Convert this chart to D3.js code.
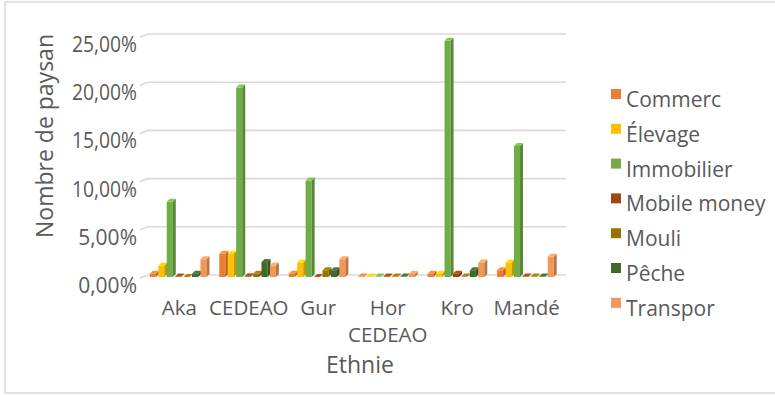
<!DOCTYPE html>
<html>
<head>
<meta charset="utf-8">
<script src="https://cdn.jsdelivr.net/npm/d3@7"></script>
<style>
  body { margin: 0; background: #fff; }
  text { font-family: "Open Sans", sans-serif; fill: #595959; }
</style>
</head>
<body>
<div id="chart"></div>
<script>
// categories (ethnies) and series
var ethnies = ["Aka", "CEDEAO", "Gur", "Hor CEDEAO", "Kro", "Mandé"];
var activites = ["Commerc", "Élevage", "Immobilier", "Mobile money", "Mouli", "Pêche", "Transpor"];
var couleurs = ["#ED7D31", "#FFC000", "#70AD47", "#9E480E", "#997300", "#43682B", "#F1975A"];

// values in % per activity, in the order of ethnies
var commerc     = [0.35, 2.4, 0.35, 0.05, 0.35, 0.7];
var elevage     = [1.2, 2.4, 1.5, 0.05, 0.35, 1.5];
var immobilier  = [7.8, 19.65, 10.0, 0.05, 24.5, 13.6];
var mobileMoney = [0.05, 0.07, 0.0, 0.05, 0.35, 0.05];
var mouli       = [0.0, 0.35, 0.7, 0.05, 0.05, 0.05];
var peche       = [0.35, 1.55, 0.7, 0.05, 0.7, 0.05];
var transpor    = [1.85, 1.2, 1.85, 0.3, 1.5, 2.1];

var yTicks = [0, 5, 10, 15, 20, 25];

var series = [commerc, elevage, immobilier, mobileMoney, mouli, peche, transpor];

var W = 775, H = 395;
var svg = d3.select("#chart").append("svg")
  .attr("width", W).attr("height", H);

// chart frame
svg.append("rect")
  .attr("x", 5).attr("y", 2)
  .attr("width", 790).attr("height", 391)
  .style("fill", "none").style("stroke", "#d9d9d9").style("stroke-width", 1.5);

// scales
var x0 = d3.scaleBand().domain(ethnies).range([145, 561])
  .paddingInner(0.15).paddingOuter(0.07);
var x1 = d3.scaleBand().domain(activites).range([0, x0.bandwidth()]);
var yGrid = d3.scaleLinear().domain([0, 25]).range([275, 34]);
var y = d3.scaleLinear().domain([0, 25]).range([277, 36]);

var depth = 3;

// gridlines with small 3D wall stub on the left
svg.append("g").selectAll("path")
  .data(yTicks).enter().append("path")
  .attr("d", function (d) {
    var gy = yGrid(d);
    return "M140," + (gy + 3) + " L148," + gy + " L566," + gy;
  })
  .style("fill", "none").style("stroke", "#d9d9d9").style("stroke-width", 1.6);

// y tick labels (the wide ones are squeezed like in the original)
svg.append("g").selectAll("text")
  .data(yTicks).enter().append("text")
  .attr("x", 137)
  .attr("y", function (d) { return yGrid(d) + 18; })
  .style("text-anchor", "end")
  .style("font-size", "21px")
  .each(function (d) {
    if (d >= 10) d3.select(this).attr("textLength", 65).attr("lengthAdjust", "spacingAndGlyphs");
  })
  .text(function (d) { return d3.format(".2f")(d).replace(".", ",") + "%"; });

// bars (front, right side, top)
var groups = svg.append("g").selectAll("g")
  .data(ethnies).enter().append("g")
  .attr("transform", function (d) { return "translate(" + x0(d) + ",0)"; });

var bw = x1.bandwidth();
var fw = bw - depth * 0.8;

groups.each(function (eth, ei) {
  var g = d3.select(this);
  activites.forEach(function (act, si) {
    var v = series[si][ei];
    var c = d3.color(couleurs[si]);
    var bx = x1(act), top = y(v), base = y(0);
    g.append("rect")
      .attr("x", bx).attr("y", top)
      .attr("width", fw).attr("height", base - top)
      .style("fill", c);
    g.append("path")
      .attr("d", "M" + (bx + fw) + "," + top + " L" + (bx + fw + depth) + "," + (top - depth) +
        " L" + (bx + fw + depth) + "," + (base - depth) + " L" + (bx + fw) + "," + base + "Z")
      .style("fill", c.darker(0.7));
    g.append("path")
      .attr("d", "M" + bx + "," + top + " L" + (bx + depth) + "," + (top - depth) +
        " L" + (bx + fw + depth) + "," + (top - depth) + " L" + (bx + fw) + "," + top + "Z")
      .style("fill", c.brighter(0.4));
  });
});

// x labels, wrapped on the space: one text per line
var xLines = [];
ethnies.forEach(function (d) {
  d.split(" ").forEach(function (p, i) { xLines.push({ cat: d, line: p, row: i }); });
});

svg.append("g").selectAll("text")
  .data(xLines).enter().append("text")
  .attr("x", function (d) { return x0(d.cat) + x0.bandwidth() / 2; })
  .attr("y", function (d) { return 315 + d.row * 27; })
  .style("text-anchor", "middle")
  .style("font-size", "20.5px")
  .text(function (d) { return d.line; });

// axis titles
svg.append("text")
  .attr("x", 360).attr("y", 373)
  .style("text-anchor", "middle")
  .style("font-size", "23px")
  .text("Ethnie");

svg.append("text")
  .attr("transform", "translate(53,136) rotate(-90)")
  .style("text-anchor", "middle")
  .style("font-size", "23px")
  .text("Nombre de paysan");

// legend
var legend = svg.append("g").selectAll("g")
  .data(activites).enter().append("g")
  .attr("transform", function (d, i) { return "translate(611," + (89 + i * 34.8) + ")"; });

legend.append("rect")
  .attr("width", 10).attr("height", 10)
  .style("fill", function (d, i) { return couleurs[i]; });

legend.append("text")
  .attr("x", 15).attr("y", 18)
  .style("font-size", "21px")
  .text(function (d) { return d; });
</script>
</body>
</html>
